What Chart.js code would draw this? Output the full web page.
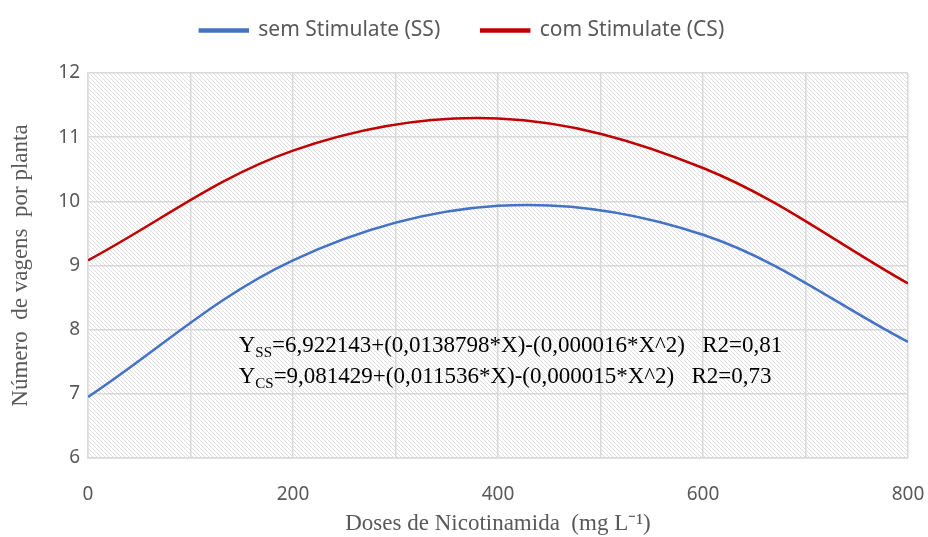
<!DOCTYPE html>
<html>
<head>
<meta charset="utf-8">
<script src="https://cdn.jsdelivr.net/npm/chart.js@4.4.1/dist/chart.umd.min.js"></script>
<style>
  html, body { margin: 0; padding: 0; background: #fff; }
  #wrap { width: 928px; height: 537px; position: relative; }
</style>
</head>
<body>
<div id="wrap"><canvas id="chart"></canvas></div>
<script>
// ====== Data ======
const doses = [0, 200, 400, 600, 800];
const semStimulate = [6.95, 9.08, 9.93, 9.48, 7.81];
const comStimulate = [9.08, 10.79, 11.29, 10.52, 8.72];
const seriesLabels = ['sem Stimulate (SS)', 'com Stimulate (CS)'];
const equations = [
    { sub: 'SS', text: '=6,922143+(0,0138798*X)-(0,000016*X^2)   R2=0,81' },
    { sub: 'CS', text: '=9,081429+(0,011536*X)-(0,000015*X^2)   R2=0,73' }
];

const serif = '"Liberation Serif", "Times New Roman", serif';
const sans = '"Noto Sans", sans-serif';

// ====== Hatched plot background ======
function makeHatch() {
    const tile = document.createElement('canvas');
    tile.width = 8; tile.height = 8;
    const c = tile.getContext('2d');
    c.fillStyle = '#ffffff';
    c.fillRect(0, 0, 8, 8);
    c.fillStyle = '#dedede';
    for (let i = 0; i < 8; i++) {
        c.fillRect(i, i, 1, 1);
        c.fillRect(i, (i + 4) % 8, 1, 1);
    }
    return tile;
}

const hatchPlugin = {
    id: 'hatch',
    beforeDraw(chart) {
        const { ctx, chartArea: a } = chart;
        ctx.save();
        ctx.fillStyle = ctx.createPattern(makeHatch(), 'repeat');
        ctx.fillRect(a.left, a.top, a.right - a.left, a.bottom - a.top);
        ctx.restore();
    }
};

// ====== Equations text ======
const equationPlugin = {
    id: 'equations',
    afterDatasetsDraw(chart) {
        const { ctx } = chart;
        const x0 = chart.scales.x.getPixelForValue(147);
        const y0 = chart.scales.y.getPixelForValue(7.65);
        ctx.save();
        ctx.fillStyle = '#000';
        ctx.textBaseline = 'alphabetic';
        equations.forEach((eq, i) => {
            const y = y0 + i * 31;
            let x = x0;
            ctx.font = '23px ' + serif;
            ctx.fillText('Y', x, y);
            x += ctx.measureText('Y').width;
            ctx.font = '15px ' + serif;
            ctx.fillText(eq.sub, x, y + 5);
            x += ctx.measureText(eq.sub).width;
            ctx.font = '23px ' + serif;
            ctx.fillText(eq.text, x, y);
        });
        ctx.restore();
    }
};

// legend box: fixed height so the plot starts where the reference does
const legendHeight = {
    id: 'legendHeight',
    beforeInit(chart) {
        const fit = chart.legend.fit;
        chart.legend.fit = function () {
            fit.bind(chart.legend)();
            this.height = 94;
        };
    },
    afterLayout(chart) {
        // centre the legend on the full page width, not the padded one
        chart.legend.left += 8;
        chart.legend.right += 8;
    }
};

new Chart(document.getElementById('chart'), {
    type: 'line',
    data: {
        labels: doses,
        datasets: [
            {
                label: seriesLabels[0],
                data: doses.map((d, i) => ({ x: d, y: semStimulate[i] })),
                borderColor: '#4472C4',
                backgroundColor: '#4472C4',
                borderWidth: 2.5,
                pointRadius: 0,
                tension: 0.35
            },
            {
                label: seriesLabels[1],
                data: doses.map((d, i) => ({ x: d, y: comStimulate[i] })),
                borderColor: '#C00000',
                backgroundColor: '#C00000',
                borderWidth: 2.5,
                pointRadius: 0,
                tension: 0.35
            }
        ]
    },
    options: {
        responsive: true,
        maintainAspectRatio: false,
        animation: false,
        layout: { padding: { top: -21, right: 20, left: 0, bottom: 0 } },
        plugins: {
            legend: {
                position: 'top',
                labels: {
                    boxWidth: 48,
                    boxHeight: 2,
                    padding: 41,
                    color: '#595959',
                    font: { family: sans, size: 21 }
                }
            },
            tooltip: { enabled: false }
        },
        scales: {
            x: {
                type: 'linear',
                min: 0,
                max: 800,
                afterFit(scale) {
                    scale.height = 79;
                    scale.paddingLeft = 0;
                    scale.paddingRight = 0;
                },
                grid: { color: '#d9d9d9', lineWidth: 1.5, drawTicks: false },
                border: { color: '#d9d9d9', width: 1.5 },
                ticks: {
                    stepSize: 100,
                    autoSkip: false,
                    maxRotation: 0,
                    padding: 25,
                    color: '#595959',
                    font: { family: sans, size: 19 },
                    callback: v => (v % 200 === 0 ? String(v) : '')
                },
                title: {
                    display: true,
                    text: 'Doses de Nicotinamida  (mg L⁻¹)',
                    color: '#595959',
                    font: { family: serif, size: 23 },
                    padding: { top: 0, bottom: -1 }
                }
            },
            y: {
                min: 6,
                max: 12,
                afterFit(scale) { scale.width = 88; },
                grid: { color: '#d9d9d9', lineWidth: 1.5, drawTicks: false },
                border: { color: '#d9d9d9', width: 1.5 },
                ticks: {
                    stepSize: 1,
                    padding: 8,
                    color: '#595959',
                    font: { family: sans, size: 19 }
                },
                title: {
                    display: true,
                    text: 'Número  de vagens  por planta',
                    color: '#595959',
                    font: { family: serif, size: 23 },
                    padding: { top: 7, bottom: 0 }
                }
            }
        }
    },
    plugins: [hatchPlugin, equationPlugin, legendHeight]
});
</script>
</body>
</html>
